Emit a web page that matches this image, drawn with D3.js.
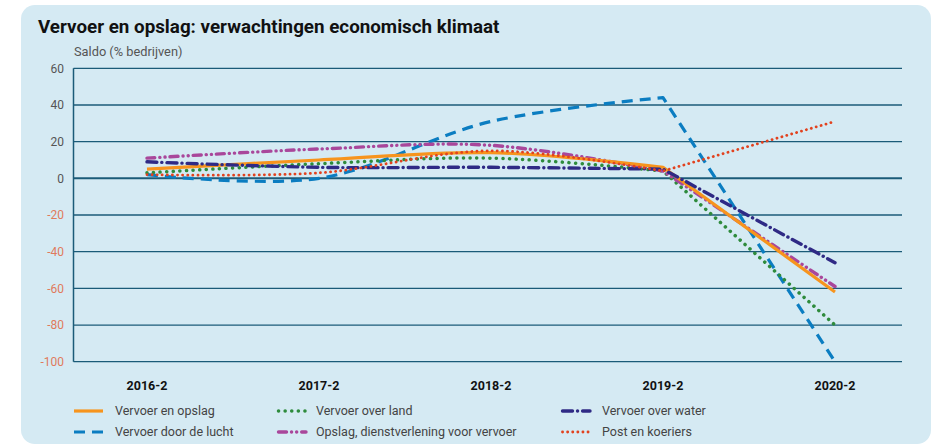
<!DOCTYPE html>
<html>
<head>
<meta charset="utf-8">
<script src="https://cdn.jsdelivr.net/npm/d3@7"></script>
<style>
  html, body { margin: 0; padding: 0; background: #ffffff; }
  svg { display: block; }
  text { font-family: Roboto, "Noto Sans", sans-serif; }
</style>
</head>
<body>
<svg id="chart" width="932" height="448"></svg>
<script>
// ---- data ----
const categories = ["2016-2", "2017-2", "2018-2", "2019-2", "2020-2"];
const vervoerEnOpslag = [5, 10, 14, 6, -62];
const vervoerDoorDeLucht = [2, 0, 31, 44, -100];
const vervoerOverLand = [3, 8, 11, 4, -80];
const opslagDienstverlening = [11, 16, 18, 4, -59];
const vervoerOverWater = [9, 6, 6, 5, -46];
const postEnKoeriers = [2, 3, 15, 4, 31];
const yTicks = [60, 40, 20, 0, -20, -40, -60, -80, -100];
const seriesNames = ["Vervoer en opslag", "Vervoer door de lucht", "Vervoer over land",
  "Opslag, dienstverlening voor vervoer", "Vervoer over water", "Post en koeriers"];

// ---- styles ----
const styles = {
  "Vervoer en opslag": { color: "#f7941d", width: 3.2, dash: null, cap: "butt" },
  "Vervoer door de lucht": { color: "#0b7dc1", width: 3.2, dash: "11,7", cap: "butt" },
  "Vervoer over land": { color: "#2e8b3c", width: 3.5, dash: "0.1,6.5", cap: "round" },
  "Opslag, dienstverlening voor vervoer": { color: "#a9479b", width: 3.4, dash: "8,5,0.1,5,0.1,5", cap: "round" },
  "Vervoer over water": { color: "#2f2a85", width: 3.4, dash: "10,5,0.1,5", cap: "round" },
  "Post en koeriers": { color: "#e2421e", width: 2.8, dash: "0.1,5", cap: "round" }
};
const seriesData = {
  "Vervoer en opslag": vervoerEnOpslag,
  "Vervoer door de lucht": vervoerDoorDeLucht,
  "Vervoer over land": vervoerOverLand,
  "Opslag, dienstverlening voor vervoer": opslagDienstverlening,
  "Vervoer over water": vervoerOverWater,
  "Post en koeriers": postEnKoeriers
};
const drawOrder = ["Vervoer door de lucht", "Vervoer over land", "Opslag, dienstverlening voor vervoer",
  "Vervoer en opslag", "Vervoer over water", "Post en koeriers"];

const svg = d3.select("#chart");

// panel
svg.append("rect").attr("x", 21).attr("y", 5).attr("width", 910).attr("height", 439)
  .attr("rx", 14).attr("fill", "#d5eaf3");

// title
svg.append("text").attr("x", 38).attr("y", 33).attr("font-size", 18.8).attr("font-weight", 700)
  .attr("fill", "#111").text("Vervoer en opslag: verwachtingen economisch klimaat");

svg.append("text").attr("x", 74).attr("y", 56).attr("font-size", 12.8).attr("fill", "#555")
  .text("Saldo (% bedrijven)");

const x = d3.scalePoint().domain(categories).range([147, 835]);
const y = d3.scaleLinear().domain([-100, 60]).range([361.7, 68.3]);
const xLeft = 73.5, xRight = 902;

// gridlines
const grid = svg.append("g");
grid.selectAll("line").data(yTicks).join("line")
  .attr("x1", xLeft).attr("x2", xRight)
  .attr("y1", d => y(d)).attr("y2", d => y(d))
  .attr("stroke", "#1b5b78").attr("stroke-width", d => d === 0 ? 2 : 1.3);

// y axis line
svg.append("line").attr("x1", xLeft).attr("x2", xLeft).attr("y1", y(60)).attr("y2", y(-100))
  .attr("stroke", "#1b5b78").attr("stroke-width", 1.5);

// y tick labels
svg.append("g").selectAll("text").data(yTicks).join("text")
  .attr("x", 64).attr("y", d => y(d)).attr("dy", "0.35em").attr("text-anchor", "end")
  .attr("font-size", 12).attr("fill", d => d < 0 ? "#e07a5c" : "#555")
  .text(d => d);

// x tick labels
svg.append("g").selectAll("text").data(categories).join("text")
  .attr("x", d => x(d)).attr("y", 390).attr("text-anchor", "middle")
  .attr("font-size", 12.5).attr("font-weight", 700).attr("fill", "#111")
  .text(d => d);

// lines: smoothed through the first four periods, straight to the last one
const smooth = d3.line().x(d => x(d.c)).y(d => y(d.v)).curve(d3.curveCatmullRom.alpha(0.5));
const straight = d3.line().x(d => x(d.c)).y(d => y(d.v));
const lines = svg.append("g");
drawOrder.forEach(name => {
  const s = styles[name];
  const pts = seriesData[name].map((v, i) => ({ c: categories[i], v: v }));
  const d1 = smooth(pts.slice(0, 4));
  const d2 = straight(pts.slice(3)).replace(/^M[^L]*/, "");
  lines.append("path")
    .attr("d", d1 + d2).attr("fill", "none")
    .attr("stroke", s.color).attr("stroke-width", s.width)
    .attr("stroke-dasharray", s.dash).attr("stroke-linecap", s.cap)
    .attr("stroke-linejoin", "round");
});

// legend
const legendPos = [
  { name: "Vervoer en opslag", x: 74, tx: 115, y: 411 },
  { name: "Vervoer door de lucht", x: 74, tx: 115, y: 432 },
  { name: "Vervoer over land", x: 277, tx: 316, y: 411 },
  { name: "Opslag, dienstverlening voor vervoer", x: 277, tx: 316, y: 432 },
  { name: "Vervoer over water", x: 561, tx: 602, y: 411 },
  { name: "Post en koeriers", x: 561, tx: 602, y: 432 }
];
const legend = svg.append("g");
legendPos.forEach(p => {
  const s = styles[p.name];
  legend.append("line").attr("x1", p.x + (s.cap === "round" ? 1.5 : 0)).attr("x2", p.x + 29)
    .attr("y1", p.y).attr("y2", p.y)
    .attr("stroke", s.color).attr("stroke-width", s.width)
    .attr("stroke-dasharray", s.dash).attr("stroke-linecap", s.cap);
  legend.append("text").attr("x", p.tx).attr("y", p.y).attr("dy", "0.35em")
    .attr("font-size", 12.5).attr("fill", "#444").text(p.name);
});
</script>
</body>
</html>
